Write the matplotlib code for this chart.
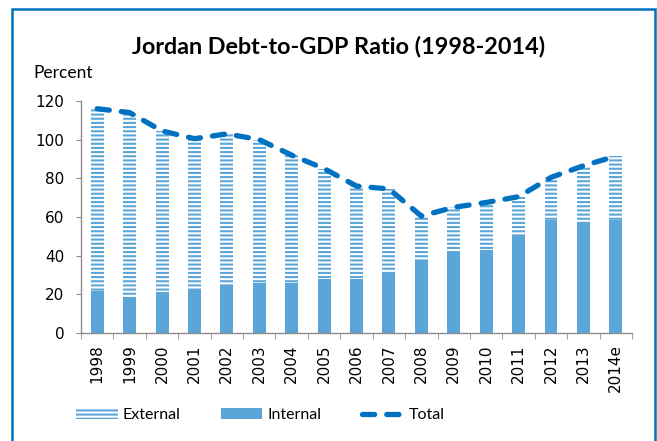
import matplotlib
matplotlib.use("Agg")
import matplotlib.pyplot as plt
from matplotlib.patches import Patch, Rectangle
from matplotlib.lines import Line2D
import numpy as np

# --- Data (percent of GDP) ---
years = ["1998", "1999", "2000", "2001", "2002", "2003", "2004", "2005", "2006",
         "2007", "2008", "2009", "2010", "2011", "2012", "2013", "2014e"]
internal = [21.5, 18.8, 21.4, 22.5, 24.5, 26.0, 26.0, 28.0, 28.0,
            30.5, 37.0, 42.0, 43.0, 50.0, 58.5, 56.5, 58.5]
total = [116.0, 114.0, 104.5, 100.5, 103.0, 100.0, 92.0, 85.0, 76.0,
         74.5, 60.5, 65.0, 67.5, 70.5, 80.5, 86.5, 91.5]
external = [t - i for t, i in zip(total, internal)]

bar_color = "#5BA5D8"
line_color = "#0070C0"
axis_color = "#8C8C8C"
label_font = ["Lato", "DejaVu Sans"]

plt.rcParams["hatch.linewidth"] = 1.5
plt.rcParams["font.family"] = ["DejaVu Sans"]

fig = plt.figure(figsize=(6.57, 4.41), dpi=100)
ax = fig.add_axes([0.1233, 0.2449, 0.8387, 0.5261])

x = np.arange(len(years))
ax.bar(x, internal, width=0.4, color=bar_color, linewidth=0)
ax.bar(x, external, width=0.4, bottom=internal, facecolor="white",
       edgecolor=bar_color, hatch="----", linewidth=0)
ax.plot(x, total, color=line_color, linewidth=3.8, dashes=(2.3, 2.3),
        dash_capstyle="round", solid_joinstyle="round")

ax.set_xlim(-0.5, len(years) - 0.5)
ax.set_ylim(0, 120)
ax.set_yticks(range(0, 121, 20))
ax.set_xticks(x)
ax.set_xticklabels(years, rotation=90)
ax.set_xticks(np.arange(-0.5, len(years)), minor=True)

for side in ["top", "right"]:
    ax.spines[side].set_visible(False)
for side in ["left", "bottom"]:
    ax.spines[side].set_color(axis_color)
    ax.spines[side].set_linewidth(1.0)

ax.tick_params(axis="y", direction="out", length=3.6, color=axis_color,
               labelsize=11, pad=8.5)
ax.tick_params(axis="x", which="major", length=0, labelsize=11, pad=8)
ax.tick_params(axis="x", which="minor", direction="out", length=4,
               color=axis_color)

fig.text(0.516, 0.894, "Jordan Debt-to-GDP Ratio (1998-2014)", ha="center",
         va="center", fontsize=16.8, fontweight="bold", family=label_font)
fig.text(33 / 657, 1 - 73 / 441, "Percent", ha="left", va="center",
         fontsize=12.5, family=label_font)

handles = [
    Patch(facecolor="white", edgecolor=bar_color, hatch="----", linewidth=0),
    Patch(facecolor=bar_color, linewidth=0),
    Line2D([], [], color=line_color, linewidth=3.8, dashes=(2.3, 2.3),
           dash_capstyle="round"),
]
fig.legend(handles, ["External", "Internal", "Total"], loc="center left",
           bbox_to_anchor=(76 / 657, 1 - 415 / 441), ncol=3, frameon=False,
           borderpad=0, borderaxespad=0, handlelength=2.6, handleheight=0.75,
           handletextpad=0.3, columnspacing=2.55,
           prop={"family": label_font, "size": 11.5})

# blue outer frame
fig.patches.append(Rectangle((12 / 657, -0.1), 643 / 657, 1.1 - 9 / 441,
                             transform=fig.transFigure, fill=False,
                             edgecolor=line_color, linewidth=1.8))

fig.savefig("out.png", dpi=100)
